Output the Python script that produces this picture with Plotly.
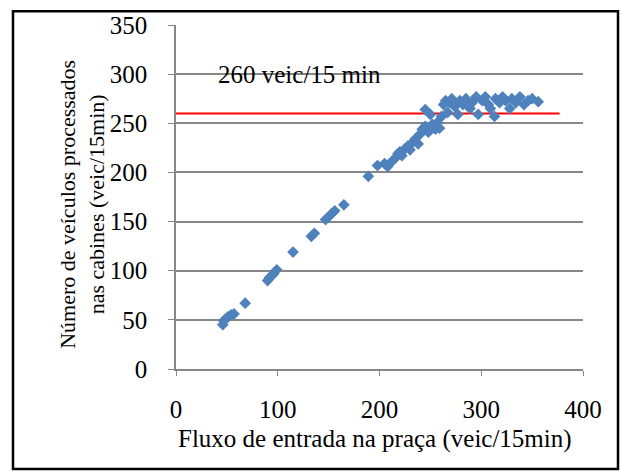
import plotly.graph_objects as go

# Fluxo de entrada (veic/15min) e veículos processados nas cabines (veic/15min)
fluxo_entrada = [
    46, 47, 49, 51, 54, 57, 68, 90, 92, 94, 96, 99, 115, 133, 136,
    147, 150, 153, 156, 165, 189, 198,
    205, 208, 212, 215, 218, 220, 222, 225, 228, 230, 233, 235, 238,
    240, 242, 245, 248, 245, 250, 252, 255, 257, 259, 261, 263, 265,
    267, 269, 271, 274, 277, 279, 282, 285, 289, 291, 295, 297, 301,
    304, 307, 309, 313, 314, 318, 321, 324, 328, 330, 334, 338, 342,
    346, 350, 356,
]
veic_processados = [
    45, 49, 51, 53, 55, 56, 67, 90, 93, 95, 97, 101, 119, 135, 138,
    152, 155, 158, 161, 167, 196, 207,
    209, 206, 211, 214, 219, 221, 217, 224, 227, 223, 231, 234, 229,
    239, 244, 247, 241, 264, 259, 249, 244, 251, 245, 257, 269, 273,
    261, 271, 275, 267, 259, 273, 269, 275, 265, 271, 277, 259, 273,
    277, 269, 265, 257, 275, 271, 277, 273, 265, 275, 271, 277, 269,
    273, 275, 272,
]

# Capacidade das cabines
capacidade = 260
capacidade_x = [0, 377]

x_ticks = [0, 100, 200, 300, 400]
y_ticks = [0, 50, 100, 150, 200, 250, 300, 350]

serif = "Liberation Serif, Times New Roman, serif"
grid_grey = "#878787"
fs = 25

fig = go.Figure()

fig.add_trace(go.Scatter(
    x=capacidade_x,
    y=[capacidade] * len(capacidade_x),
    mode="lines",
    line=dict(color="#FF0000", width=2),
    hoverinfo="skip",
    showlegend=False,
))

fig.add_trace(go.Scatter(
    x=fluxo_entrada,
    y=veic_processados,
    mode="markers",
    marker=dict(symbol="diamond", size=9, color="#4F81BD", line=dict(width=0)),
    showlegend=False,
))

fig.update_layout(
    width=622,
    height=472,
    margin=dict(l=176, r=39, t=19, b=103),
    paper_bgcolor="white",
    plot_bgcolor="white",
    font=dict(family=serif, size=fs, color="black"),
    xaxis=dict(
        range=[0, 400],
        tickvals=x_ticks,
        showgrid=False,
        zeroline=False,
        showline=True,
        linecolor=grid_grey,
        linewidth=1.5,
        ticks="outside",
        ticklen=5,
        tickcolor=grid_grey,
        ticklabelstandoff=12,
        tickfont=dict(family=serif, size=fs, color="black"),
    ),
    yaxis=dict(
        range=[0, 350],
        tickvals=y_ticks,
        showgrid=True,
        gridcolor=grid_grey,
        gridwidth=1.5,
        zeroline=False,
        showline=True,
        linecolor=grid_grey,
        linewidth=1.5,
        ticks="outside",
        ticklen=6,
        tickcolor=grid_grey,
        ticklabelstandoff=16,
        tickfont=dict(family=serif, size=fs, color="black"),
    ),
    annotations=[
        dict(
            text=f"{capacidade} veic/15 min",
            x=39, y=300, xref="x", yref="y",
            xanchor="left", yanchor="middle",
            showarrow=False,
            font=dict(family=serif, size=fs, color="black"),
        ),
        dict(
            text="Fluxo de entrada na praça (veic/15min)",
            x=0.489, y=-0.203, xref="paper", yref="paper",
            xanchor="center", yanchor="middle",
            showarrow=False,
            font=dict(family=serif, size=fs, color="black"),
        ),
        dict(
            text="Número de veículos processados<br>nas cabines (veic/15min)",
            x=-0.231, y=0.48, xref="paper", yref="paper",
            xanchor="center", yanchor="middle",
            textangle=-90,
            showarrow=False,
            font=dict(family=serif, size=22, color="black"),
        ),
    ],
    shapes=[
        dict(
            type="rect", xref="paper", yref="paper",
            x0=-0.4005, x1=1.086, y0=-0.291, y1=1.04,
            line=dict(color="black", width=2.5),
            fillcolor="rgba(0,0,0,0)",
        ),
    ],
)

fig.write_html("out.html")
